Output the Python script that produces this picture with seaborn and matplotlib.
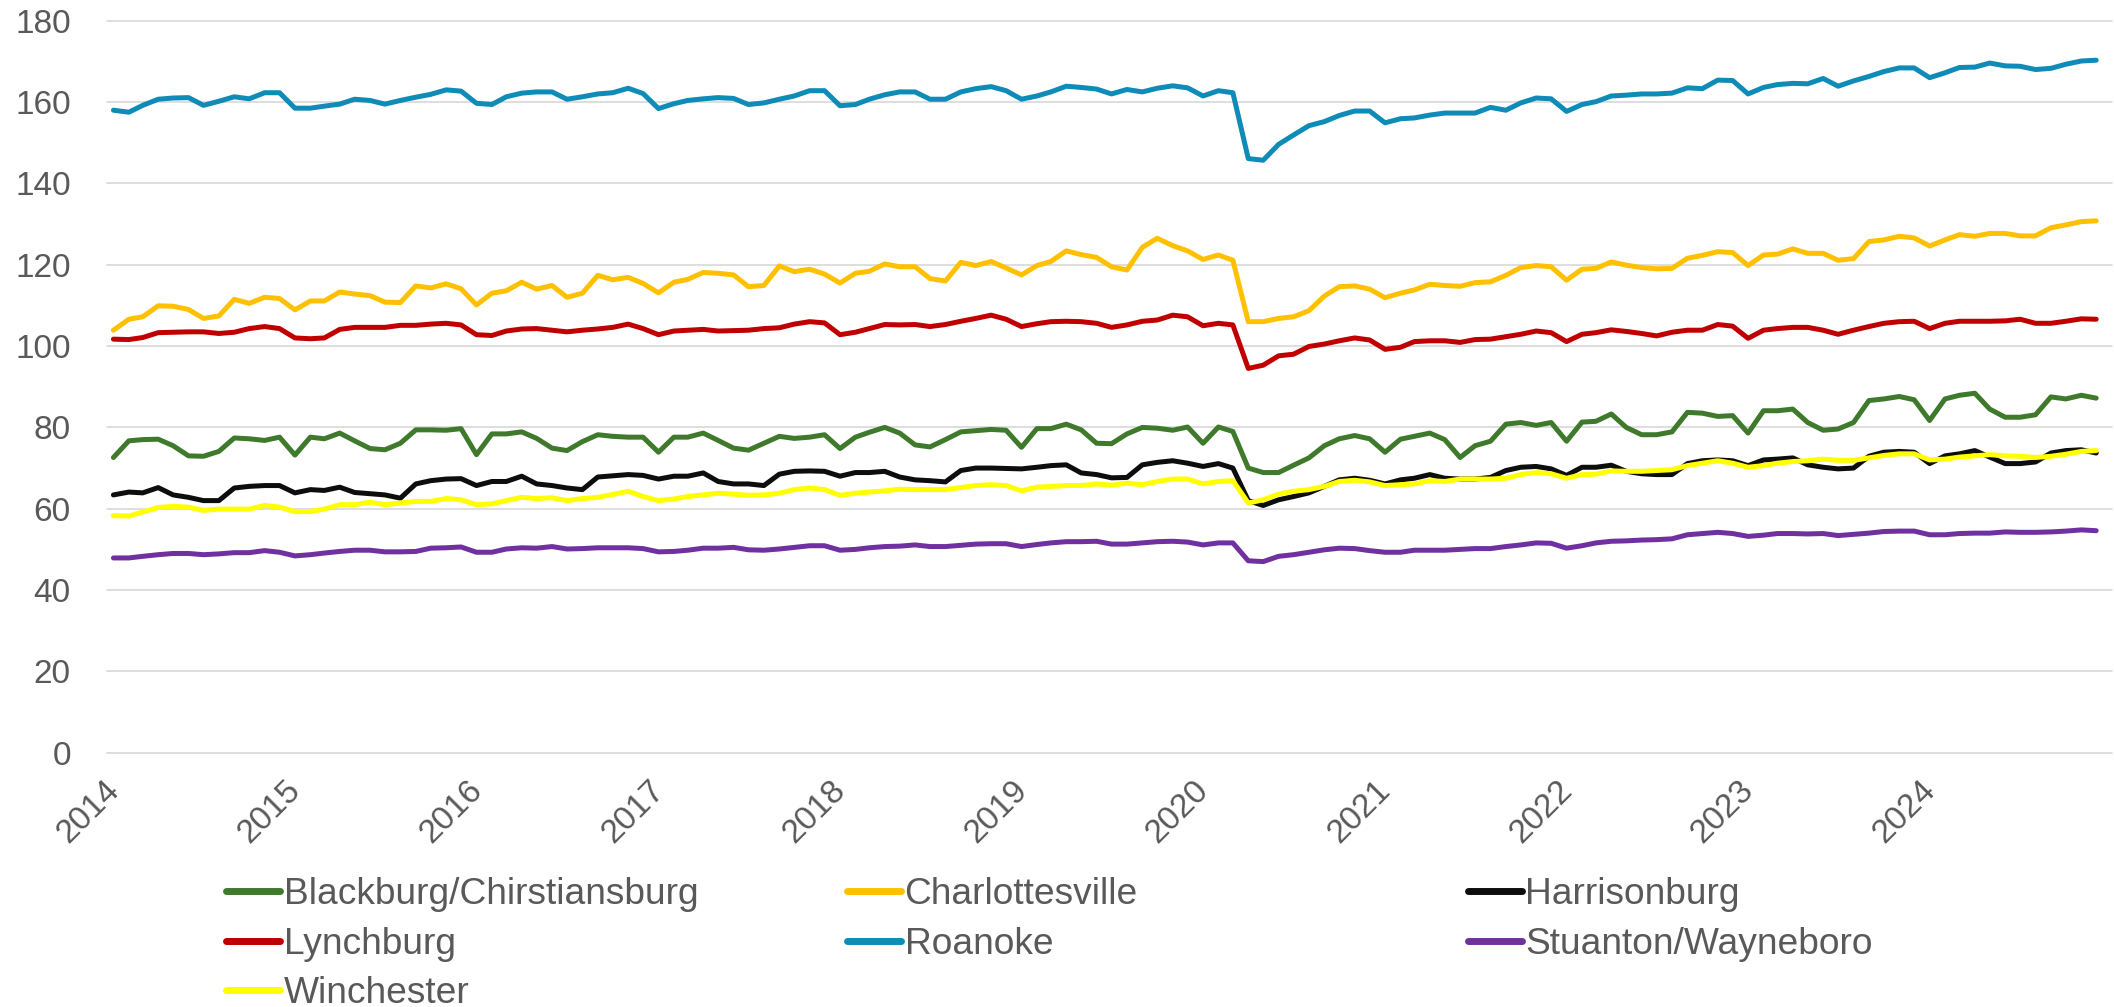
import numpy as np
import pandas as pd
import matplotlib
matplotlib.use("Agg")
import matplotlib.pyplot as plt
import matplotlib.transforms as mtransforms
import seaborn as sns

sns.set_theme(style="white")
plt.rcParams['font.family'] = ['Liberation Sans', 'DejaVu Sans']

# monthly series, Jan 2014 - Dec 2024
months = pd.date_range("2014-01-01", periods=132, freq="MS")
years = list(range(2014, 2025))

blacksburg = [
    72.6, 76.7, 77.0, 77.1, 75.5, 73.0, 72.9, 74.1, 77.4, 77.2, 76.8, 77.6,
    73.2, 77.6, 77.2, 78.6, 76.7, 74.8, 74.5, 76.1, 79.4, 79.4, 79.3, 79.7,
    73.3, 78.4, 78.4, 78.9, 77.3, 74.9, 74.3, 76.5, 78.2, 77.8, 77.6, 77.6,
    73.9, 77.6, 77.6, 78.6, 76.8, 74.9, 74.4, 76.1, 77.8, 77.3, 77.6, 78.2,
    74.8, 77.6, 78.8, 80.0, 78.6, 75.7, 75.2, 77.0, 78.9, 79.2, 79.5, 79.3,
    75.1, 79.7, 79.7, 80.8, 79.4, 76.1, 76.0, 78.4, 80.0, 79.8, 79.3, 80.1,
    76.1, 80.1, 79.0, 70.0, 68.9, 68.9, 70.7, 72.5, 75.5, 77.2, 78.0, 77.2,
    73.9, 77.1, 77.8, 78.6, 77.0, 72.6, 75.5, 76.6, 80.8, 81.2, 80.5, 81.2,
    76.6, 81.3, 81.5, 83.3, 80.0, 78.2, 78.2, 78.9, 83.7, 83.5, 82.7, 82.9,
    78.6, 84.1, 84.1, 84.5, 81.2, 79.3, 79.6, 81.2, 86.6, 87.0, 87.6, 86.8,
    81.7, 87.0, 87.9, 88.4, 84.5, 82.5, 82.5, 83.1, 87.5, 87.0, 87.9, 87.2,
]
charlottesville = [
    103.9, 106.6, 107.2, 109.9, 109.8, 109.0, 106.8, 107.4, 111.5, 110.5, 112.0, 111.7,
    108.9, 111.1, 111.1, 113.3, 112.8, 112.4, 110.8, 110.7, 114.8, 114.3, 115.3, 114.1,
    110.1, 113.0, 113.6, 115.7, 114.0, 114.9, 112.0, 113.0, 117.4, 116.3, 116.9, 115.4,
    113.1, 115.7, 116.4, 118.1, 117.9, 117.5, 114.6, 114.9, 119.7, 118.3, 118.9, 117.7,
    115.5, 117.9, 118.4, 120.2, 119.5, 119.5, 116.6, 116.0, 120.6, 119.8, 120.8, 119.2,
    117.5, 119.8, 120.8, 123.4, 122.5, 121.8, 119.5, 118.7, 124.3, 126.5, 124.7, 123.4,
    121.3, 122.4, 121.1, 106.0, 106.0, 106.8, 107.2, 108.7, 112.3, 114.6, 114.8, 114.0,
    111.9, 113.0, 113.8, 115.2, 114.9, 114.7, 115.6, 115.8, 117.4, 119.3, 119.8, 119.5,
    116.2, 118.9, 119.1, 120.7, 119.9, 119.3, 119.0, 119.1, 121.6, 122.3, 123.2, 123.0,
    119.8, 122.4, 122.6, 123.9, 122.8, 122.8, 121.1, 121.5, 125.7, 126.1, 127.0, 126.6,
    124.6, 126.1, 127.4, 127.0, 127.7, 127.7, 127.1, 127.1, 129.1, 129.8, 130.6, 130.8,
]
harrisonburg = [
    63.4, 64.1, 63.9, 65.2, 63.4, 62.8, 62.0, 62.0, 65.1, 65.5, 65.7, 65.7,
    63.9, 64.7, 64.5, 65.3, 64.0, 63.7, 63.4, 62.6, 66.1, 66.9, 67.3, 67.4,
    65.7, 66.7, 66.7, 68.0, 66.1, 65.7, 65.1, 64.7, 67.8, 68.1, 68.4, 68.2,
    67.3, 68.0, 68.0, 68.8, 66.7, 66.1, 66.1, 65.7, 68.5, 69.2, 69.3, 69.2,
    68.0, 68.9, 68.9, 69.2, 67.8, 67.1, 66.9, 66.6, 69.4, 70.0, 70.0, 69.9,
    69.8, 70.2, 70.6, 70.8, 68.8, 68.4, 67.6, 67.7, 70.8, 71.4, 71.8, 71.2,
    70.4, 71.1, 70.0, 62.0, 60.8, 62.2, 63.0, 63.9, 65.5, 67.1, 67.5, 67.0,
    66.1, 67.1, 67.5, 68.4, 67.5, 67.3, 67.3, 67.7, 69.4, 70.2, 70.4, 69.8,
    68.2, 70.2, 70.2, 70.7, 69.2, 68.6, 68.4, 68.4, 71.1, 71.8, 72.0, 71.8,
    70.6, 72.0, 72.2, 72.5, 70.8, 70.2, 69.8, 70.0, 72.9, 73.9, 74.1, 73.9,
    71.1, 73.0, 73.5, 74.3, 72.7, 71.1, 71.1, 71.5, 73.7, 74.3, 74.5, 73.7,
]
lynchburg = [
    101.7, 101.6, 102.1, 103.3, 103.4, 103.5, 103.5, 103.1, 103.4, 104.3, 104.8, 104.3,
    102.0, 101.8, 102.0, 104.1, 104.6, 104.6, 104.6, 105.1, 105.1, 105.4, 105.6, 105.2,
    102.8, 102.6, 103.7, 104.2, 104.3, 103.9, 103.5, 103.9, 104.2, 104.6, 105.4, 104.3,
    102.8, 103.7, 103.9, 104.1, 103.7, 103.8, 103.9, 104.3, 104.5, 105.4, 106.0, 105.7,
    102.8, 103.4, 104.3, 105.3, 105.2, 105.3, 104.8, 105.3, 106.1, 106.8, 107.6, 106.6,
    104.8, 105.5, 106.0, 106.1, 106.0, 105.6, 104.6, 105.2, 106.1, 106.4, 107.6, 107.2,
    105.0, 105.6, 105.2, 94.5, 95.3, 97.6, 98.0, 99.9, 100.5, 101.3, 102.0, 101.5,
    99.2, 99.7, 101.1, 101.3, 101.3, 100.9, 101.6, 101.7, 102.3, 102.9, 103.7, 103.3,
    101.1, 102.9, 103.3, 104.0, 103.6, 103.1, 102.5, 103.4, 103.9, 103.9, 105.3, 104.9,
    101.9, 103.9, 104.3, 104.6, 104.6, 103.9, 102.9, 103.9, 104.8, 105.6, 106.0, 106.1,
    104.3, 105.6, 106.1, 106.1, 106.1, 106.2, 106.6, 105.6, 105.6, 106.1, 106.7, 106.6,
]
roanoke = [
    158.0, 157.5, 159.2, 160.7, 161.0, 161.1, 159.2, 160.2, 161.3, 160.8, 162.3, 162.3,
    158.5, 158.5, 159.0, 159.5, 160.7, 160.4, 159.5, 160.4, 161.2, 161.9, 163.0, 162.7,
    159.7, 159.4, 161.3, 162.2, 162.5, 162.5, 160.7, 161.3, 162.0, 162.3, 163.4, 162.1,
    158.4, 159.6, 160.4, 160.8, 161.1, 160.9, 159.4, 159.8, 160.7, 161.5, 162.8, 162.8,
    159.1, 159.4, 160.7, 161.8, 162.5, 162.5, 160.7, 160.7, 162.5, 163.3, 163.8, 162.8,
    160.7, 161.5, 162.5, 163.9, 163.6, 163.2, 162.0, 163.1, 162.5, 163.4, 164.0, 163.5,
    161.5, 162.8, 162.3, 146.1, 145.7, 149.6, 151.9, 154.2, 155.2, 156.7, 157.8, 157.8,
    154.9, 155.9, 156.1, 156.8, 157.3, 157.3, 157.3, 158.7, 158.0, 159.8, 161.0, 160.8,
    157.7, 159.4, 160.1, 161.5, 161.7, 162.0, 162.0, 162.2, 163.5, 163.3, 165.4, 165.3,
    162.0, 163.6, 164.3, 164.6, 164.5, 165.8, 163.9, 165.2, 166.3, 167.5, 168.4, 168.4,
    166.0, 167.2, 168.5, 168.6, 169.6, 168.9, 168.8, 168.0, 168.3, 169.3, 170.1, 170.3,
]
staunton = [
    47.9, 47.9, 48.3, 48.7, 49.0, 49.0, 48.7, 48.9, 49.2, 49.2, 49.7, 49.3,
    48.4, 48.7, 49.1, 49.5, 49.8, 49.8, 49.4, 49.4, 49.5, 50.3, 50.4, 50.6,
    49.3, 49.3, 50.1, 50.4, 50.3, 50.7, 50.1, 50.2, 50.4, 50.4, 50.4, 50.2,
    49.4, 49.5, 49.8, 50.3, 50.3, 50.5, 49.9, 49.8, 50.1, 50.5, 50.9, 50.9,
    49.8, 50.0, 50.4, 50.7, 50.8, 51.1, 50.7, 50.7, 51.0, 51.3, 51.4, 51.4,
    50.7, 51.2, 51.6, 51.9, 51.9, 52.0, 51.3, 51.3, 51.6, 51.9, 52.0, 51.8,
    51.1, 51.6, 51.6, 47.2, 47.0, 48.3, 48.7, 49.3, 49.9, 50.3, 50.2, 49.7,
    49.3, 49.3, 49.8, 49.8, 49.8, 50.0, 50.2, 50.2, 50.7, 51.1, 51.6, 51.5,
    50.3, 50.9, 51.6, 52.0, 52.1, 52.3, 52.4, 52.6, 53.6, 53.9, 54.2, 53.9,
    53.2, 53.5, 53.9, 53.9, 53.8, 53.9, 53.4, 53.7, 54.0, 54.4, 54.5, 54.5,
    53.6, 53.6, 53.9, 54.0, 54.0, 54.3, 54.2, 54.2, 54.3, 54.5, 54.8, 54.6,
]
winchester = [
    58.3, 58.2, 59.2, 60.3, 60.6, 60.4, 59.6, 59.9, 59.9, 59.9, 60.8, 60.4,
    59.3, 59.3, 59.9, 61.0, 61.0, 61.6, 61.0, 61.4, 61.8, 61.8, 62.5, 62.2,
    61.0, 61.2, 62.0, 62.8, 62.5, 62.7, 62.0, 62.5, 62.8, 63.5, 64.3, 63.0,
    62.0, 62.4, 63.0, 63.4, 63.8, 63.6, 63.3, 63.4, 63.8, 64.7, 65.1, 64.7,
    63.3, 63.8, 64.1, 64.4, 64.8, 64.7, 64.7, 64.7, 65.2, 65.7, 65.9, 65.7,
    64.4, 65.3, 65.5, 65.7, 65.7, 66.1, 65.8, 66.3, 65.9, 66.7, 67.3, 67.3,
    66.1, 66.7, 66.9, 61.4, 62.2, 63.6, 64.3, 64.7, 65.5, 66.7, 67.0, 66.6,
    65.7, 65.9, 66.1, 66.9, 66.7, 67.3, 67.3, 67.3, 67.5, 68.4, 68.9, 68.6,
    67.5, 68.4, 68.5, 69.3, 69.2, 69.2, 69.4, 69.6, 70.6, 71.2, 71.8, 71.2,
    70.2, 70.6, 71.2, 71.6, 71.8, 72.2, 71.9, 71.9, 72.5, 73.1, 73.5, 73.5,
    72.0, 72.2, 72.7, 73.0, 73.3, 73.0, 72.9, 72.6, 72.9, 73.4, 74.1, 74.3,
]

series_names = ["Blackburg/Chirstiansburg", "Charlottesville", "Harrisonburg",
                "Lynchburg", "Roanoke", "Stuanton/Wayneboro", "Winchester"]
series_values = [blacksburg, charlottesville, harrisonburg, lynchburg,
                 roanoke, staunton, winchester]
colors = ["#3F7A2C", "#FFC000", "#0D0D0D", "#C00000", "#0E8BB6", "#7030A0", "#FFFF00"]

df = pd.concat(
    [pd.DataFrame({"date": months, "value": v, "area": n})
     for n, v in zip(series_names, series_values)],
    ignore_index=True,
)

fig = plt.figure(figsize=(21.14, 10.07), dpi=100)
ax = fig.add_axes([0.0506, 0.2525, 0.9485, 0.7269])

sns.lineplot(data=df, x="date", y="value", hue="area", hue_order=series_names,
             palette=dict(zip(series_names, colors)), linewidth=3.6, ax=ax,
             solid_joinstyle="round", solid_capstyle="round")

ax.set_ylim(0, 180)
ax.set_yticks(range(0, 181, 20))
ax.set_xlim(pd.Timestamp("2013-12-19"), pd.Timestamp("2025-01-02"))
ax.set_xticks([pd.Timestamp(f"{y}-01-01") for y in years], [str(y) for y in years])
ax.set_xlabel("")
ax.set_ylabel("")

for s in ax.spines.values():
    s.set_visible(False)
ax.yaxis.grid(True, color="#D9D9D9", linewidth=1.25)
ax.set_axisbelow(True)
for gl in ax.get_ygridlines():
    gl.set_clip_on(False)

ax.tick_params(axis="y", length=0, pad=26, labelsize=24, labelcolor="#595959")
ax.tick_params(axis="x", length=0, pad=16, labelsize=24, labelcolor="#595959")

# rotated year labels, nudged so their upper-right end sits near the tick
shift = mtransforms.ScaledTranslation(-10 / 100, 0, fig.dpi_scale_trans)
for lab in ax.get_xticklabels():
    lab.set_rotation(45)
    lab.set_ha("right")
    lab.set_va("top")
    lab.set_rotation_mode("anchor")
    lab.set_transform(lab.get_transform() + shift)

handles, labels = ax.get_legend_handles_labels()
ax.get_legend().remove()
lookup = dict(zip(labels, handles))
columns = [
    (0.107, ["Blackburg/Chirstiansburg", "Lynchburg", "Winchester"]),
    (0.4007, ["Charlottesville", "Roanoke"]),
    (0.6944, ["Harrisonburg", "Stuanton/Wayneboro"]),
]
for x0, names in columns:
    leg = fig.legend([lookup[n] for n in names], names, loc="upper left",
                     bbox_to_anchor=(x0, 0.129), frameon=False, fontsize=26.7,
                     handlelength=1.45, handletextpad=0.1, borderpad=0,
                     borderaxespad=0, labelspacing=0.39, labelcolor="#595959")
    for h in leg.legend_handles:
        h.set_linewidth(5)

fig.savefig("out.png", dpi=100)
